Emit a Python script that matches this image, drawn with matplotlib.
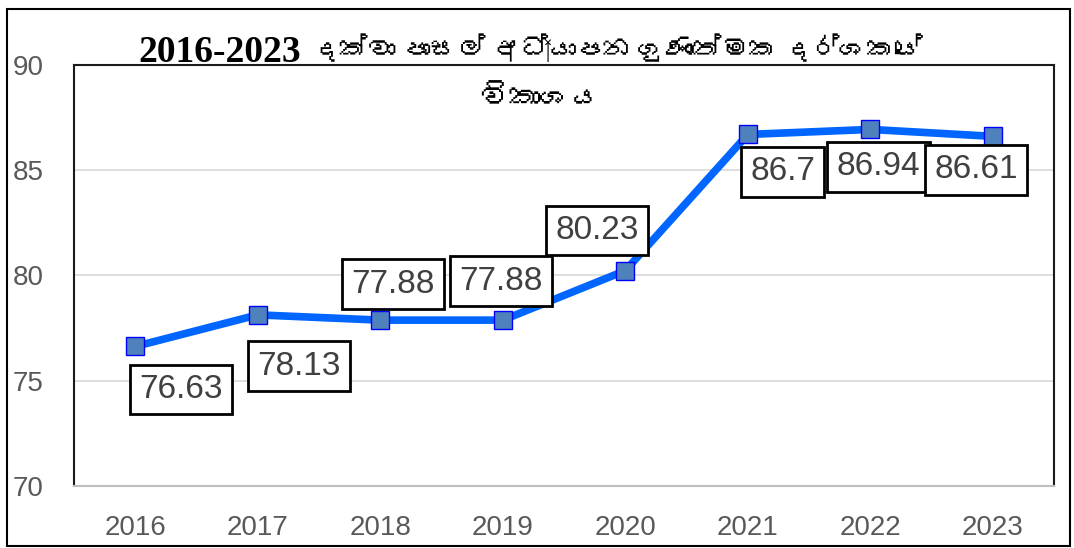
import matplotlib
matplotlib.use("Agg")
import matplotlib.pyplot as plt
from matplotlib import font_manager
from matplotlib.ft2font import FT2Font
from matplotlib.patches import Rectangle

years = ["2016", "2017", "2018", "2019", "2020", "2021", "2022", "2023"]
index_values = [76.63, 78.13, 77.88, 77.88, 80.23, 86.70, 86.94, 86.61]
value_labels = ["76.63", "78.13", "77.88", "77.88", "80.23", "86.7", "86.94", "86.61"]
title_years = "2016-2023"
title_rest = "දක්වා පාසල් අධ්‍යාපන ගුණාත්මක දර්ශකයේ"
title_line2 = "විකාශය"

# label box offsets (in points) from each point
label_offsets = [(33, -31), (30, -37), (9, 26), (-1, 28), (-20, 29), (25, -27), (6, -27), (-12, -24)]

W, H = 1074, 548


def find_sinhala_font():
    for entry in font_manager.fontManager.ttflist:
        try:
            if FT2Font(entry.fname).get_char_index(ord("ද")):
                return entry.name
        except Exception:
            continue
    return None


sinhala = find_sinhala_font()
# Liberation Serif first so the zero-width joiner stays invisible
sinhala_family = ["Liberation Serif"] + ([sinhala] if sinhala else []) + ["DejaVu Sans"]

fig = plt.figure(figsize=(W / 100, H / 100), dpi=100)
ax = fig.add_axes([74 / W, 1 - 486 / H, 980 / W, 421 / H])

x = list(range(len(years)))
ax.plot(x, index_values, color="#0066FF", linewidth=5.5,
        marker="s", markersize=13, markerfacecolor="#4F81BD",
        markeredgecolor="#0000FF", markeredgewidth=1, zorder=3)

for xi, yi, text, (dx, dy) in zip(x, index_values, value_labels, label_offsets):
    ax.annotate(text, (xi, yi), xytext=(dx, dy), textcoords="offset points",
                ha="center", va="center", fontsize=24, color="#404040",
                family="Liberation Sans",
                bbox=dict(boxstyle="square,pad=0.28", facecolor="white",
                          edgecolor="black", linewidth=2), zorder=4)

ax.set_xlim(-0.5, len(years) - 0.5)
ax.set_ylim(70, 90)
ax.set_yticks([70, 75, 80, 85, 90])
ax.set_xticks(x)
ax.set_xticklabels(years)
ax.tick_params(axis="both", length=0, labelsize=20, labelcolor="#595959")
for lbl in ax.get_xticklabels() + ax.get_yticklabels():
    lbl.set_family("Liberation Sans")
ax.tick_params(axis="x", pad=21)
ax.tick_params(axis="y", pad=44)
for lbl in ax.get_yticklabels():
    lbl.set_horizontalalignment("left")
ax.grid(axis="y", color="#D9D9D9", linewidth=1.2)
ax.set_axisbelow(True)
for spine in ax.spines.values():
    spine.set_color("#1a1a1a")
    spine.set_linewidth(1.5)
ax.spines["bottom"].set_color("#BFBFBF")

fig.text(301 / W, 1 - 52 / H, title_years, ha="right", va="center",
         fontsize=27, fontweight="bold", family="Liberation Serif")
fig.text(312 / W, 1 - 50 / H, title_rest, ha="left", va="center",
         fontsize=20, fontweight="bold", family=sinhala_family)
fig.text(540 / W, 1 - 100 / H, title_line2, ha="center", va="center",
         fontsize=22, fontweight="bold", family=sinhala_family)

fig.patches.append(Rectangle((7 / W, 2 / H), 1063 / W, 537 / H,
                             transform=fig.transFigure, fill=False,
                             edgecolor="black", linewidth=1.5))

fig.savefig("out.png", dpi=100)
